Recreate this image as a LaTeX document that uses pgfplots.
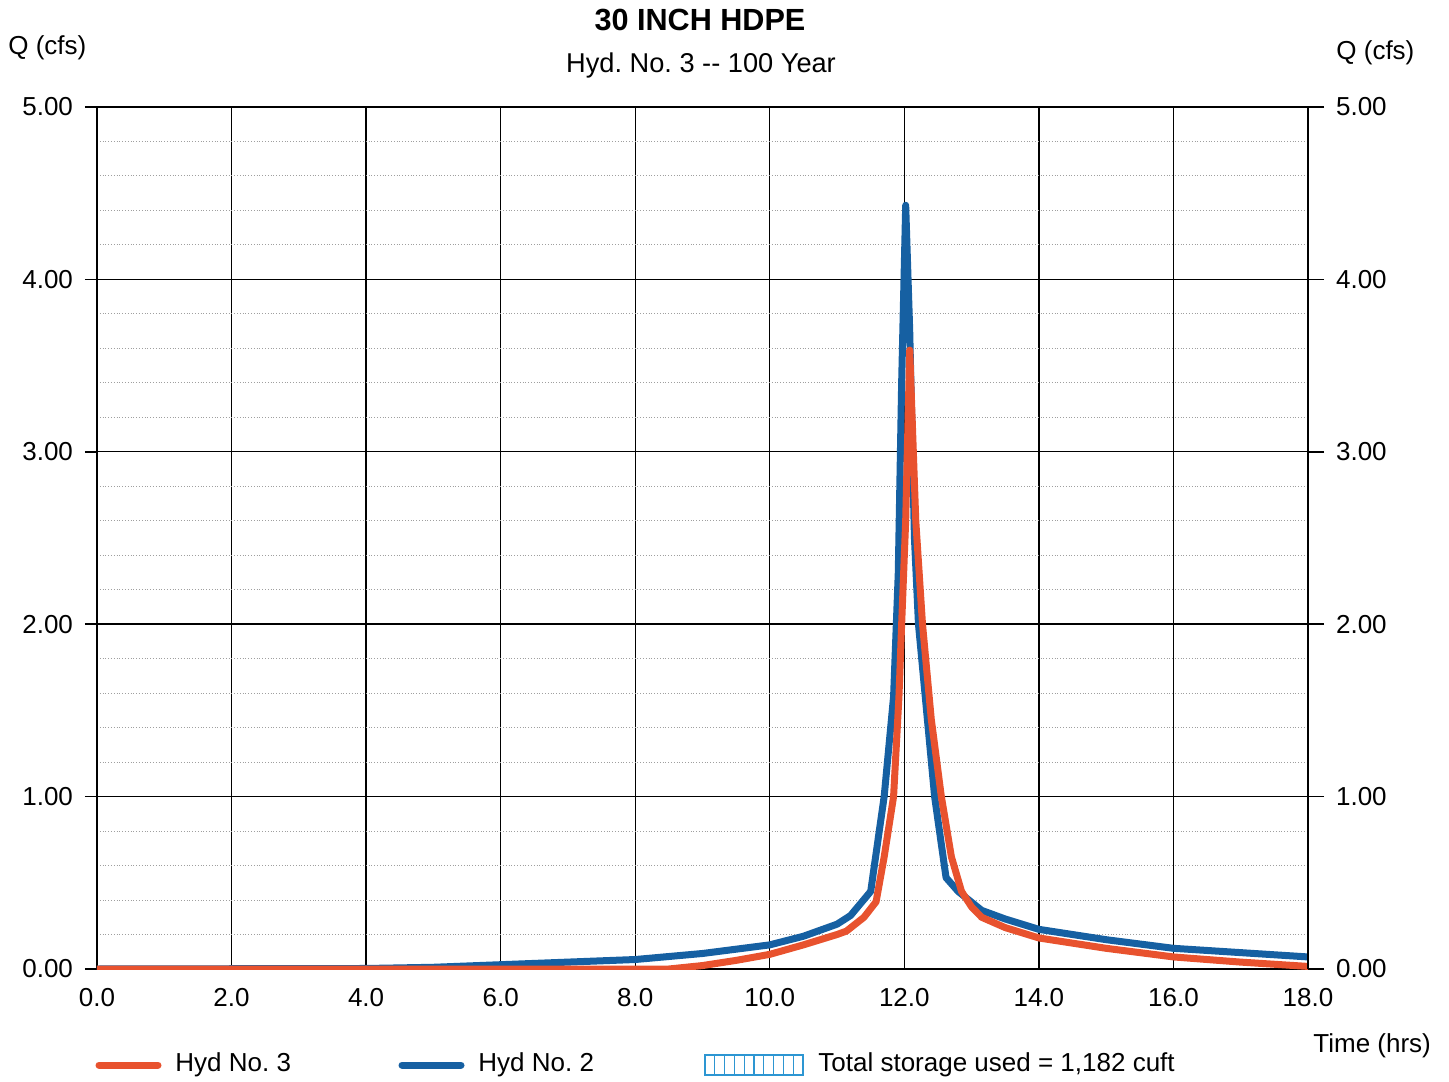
\documentclass[border=0pt]{standalone}
\usepackage{fontspec}
\setmainfont{Liberation Sans}
\usepackage{pgfplots}
\pgfplotsset{compat=1.18}
\definecolor{hydred}{RGB}{232,82,46}
\definecolor{hydblue}{RGB}{22,96,162}
\definecolor{hatchblue}{RGB}{45,150,210}
\newcommand{\lbl}{\fontsize{13}{15}\selectfont}
\frenchspacing

\begin{document}
\begin{tikzpicture}
\useasboundingbox (-48.5pt,-56pt) rectangle (676pt,484.5pt);
\begin{axis}[
    name=ax, at={(0,0)}, anchor=south west,
    scale only axis, width=605.5pt, height=431pt,
    xmin=0, xmax=18, ymin=0, ymax=5,
    xtick={0,2,...,18}, ytick={0,1,...,5},
    minor y tick num=4,
    grid=both,
    major grid style={black, line width=0.7pt},
    minor grid style={gray!75, densely dotted, line width=0.5pt},
    axis line style={black, line width=1pt},
    xtick pos=bottom, ytick pos=left,
    tick align=outside,
    major tick length=6pt, minor tick length=0pt,
    xtick style={draw=none},
    ytick style={black, line width=0.8pt},
    /pgf/number format/assume math mode=true,
    ticklabel style={font=\lbl},
    x tick label style={/pgf/number format/.cd, fixed, fixed zerofill, precision=1, /tikz/.cd},
    y tick label style={xshift=-2.5pt, /pgf/number format/.cd, fixed, fixed zerofill, precision=2, /tikz/.cd},
]
% Hyd No. 2 (inflow)
\addplot[hydblue, line width=3.5pt, line join=round, line cap=round] coordinates {
    (0,0) (4,0.003) (5,0.01) (6,0.025) (7,0.04) (8,0.055) (9,0.09)
    (10,0.14) (10.5,0.19) (11,0.26) (11.2,0.31) (11.5,0.45) (11.7,1.0)
    (11.84,1.58) (11.91,2.3) (11.96,3.4) (12.02,4.43) (12.08,3.7)
    (12.15,2.5) (12.21,2.0) (12.33,1.5) (12.45,1.0) (12.62,0.53)
    (12.8,0.45) (13.15,0.34) (13.5,0.29) (14.0,0.23) (15.0,0.17)
    (16.0,0.12) (17.0,0.095) (18.0,0.07)
};
% Hyd No. 3 (outflow)
\addplot[hydred, line width=3.5pt, line join=round, line cap=round] coordinates {
    (0,0) (8.5,0) (9,0.02) (9.5,0.05) (10,0.085) (10.5,0.14) (11,0.2)
    (11.14,0.22) (11.4,0.3) (11.58,0.39) (11.7,0.65) (11.84,1.0)
    (11.92,1.58) (11.96,2.0) (12.02,2.6) (12.08,3.59) (12.17,2.6)
    (12.27,2.0) (12.4,1.45) (12.55,1.0) (12.7,0.65) (12.85,0.45)
    (13.0,0.36) (13.15,0.30) (13.5,0.24) (14.0,0.18) (15.0,0.12)
    (16.0,0.07) (17.0,0.04) (18.0,0.015)
};
\end{axis}
% right-hand Q scale
\begin{axis}[
    at={(0,0)}, anchor=south west,
    scale only axis, width=605.5pt, height=431pt,
    xmin=0, xmax=18, ymin=0, ymax=5,
    axis x line=none, axis y line*=right,
    ytick={0,1,...,5},
    tick align=outside, major tick length=8pt,
    ytick style={black, line width=0.8pt},
    axis line style={black, line width=1pt},
    /pgf/number format/assume math mode=true,
    ticklabel style={font=\lbl},
    y tick label style={xshift=2.5pt, /pgf/number format/.cd, fixed, fixed zerofill, precision=2, /tikz/.cd},
]
\end{axis}
\node[font=\fontsize{15.3}{18}\selectfont\bfseries] at (301.5pt,474.5pt) {30 INCH HDPE};
\node[font=\fontsize{13.6}{16}\selectfont] at (302pt,452pt) {Hyd. No. 3 -{}- 100 Year};
\node[font=\lbl, anchor=west, inner sep=0pt] at (-44.5pt,460.5pt) {Q (cfs)};
\node[font=\lbl, anchor=west, inner sep=0pt] at (619.5pt,458pt) {Q (cfs)};
\node[font=\lbl, anchor=west, inner sep=0pt] at (608pt,-38.5pt) {Time (hrs)};
% legend
\draw[hydred, line width=3.5pt, line cap=round] (1pt,-48pt) -- (30.5pt,-48pt);
\node[font=\lbl, anchor=west, inner sep=0pt] at (39pt,-48pt) {Hyd No. 3};
\draw[hydblue, line width=3.5pt, line cap=round] (152.5pt,-48pt) -- (182pt,-48pt);
\node[font=\lbl, anchor=west, inner sep=0pt] at (190.5pt,-48pt) {Hyd No. 2};
\draw[hatchblue, line width=0.6pt] (304pt,-53pt) rectangle (353pt,-43pt);
\foreach \i in {1,...,9} \draw[hatchblue, line width=0.6pt] (304pt+\i*4.9pt,-53pt) -- ++(0,10pt);
\node[font=\lbl, anchor=west, inner sep=0pt] at (360.5pt,-48pt) {Total storage used = 1,182 cuft};
\end{tikzpicture}
\end{document}
